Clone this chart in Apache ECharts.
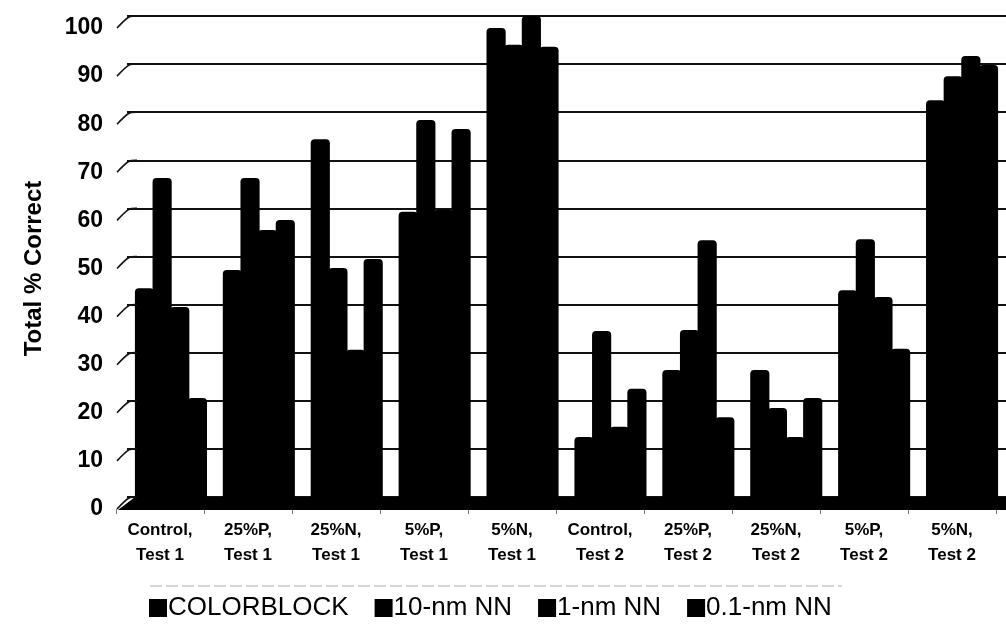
<!DOCTYPE html>
<html>
<head>
<meta charset="utf-8">
<script src="https://cdn.jsdelivr.net/npm/echarts@6/dist/echarts.min.js"></script>
<style>
  html, body { margin: 0; padding: 0; background: #fff; }
  #chart { width: 1006px; height: 633px; }
</style>
</head>
<body>
<div id="chart"></div>
<script>
// Groups along the x axis
const categories = [
  'Control,\nTest 1', '25%P,\nTest 1', '25%N,\nTest 1', '5%P,\nTest 1', '5%N,\nTest 1',
  'Control,\nTest 2', '25%P,\nTest 2', '25%N,\nTest 2', '5%P,\nTest 2', '5%N,\nTest 2'
];

// Total % correct for each method
const colorblock = [43.4, 47.2, 74.4, 59.3, 97.5, 12.5, 26.4, 26.4, 43.0, 82.5];
const nm10       = [66.3, 66.3, 47.6, 78.4, 94.0, 34.5, 34.7, 18.5, 53.6, 87.5];
const nm1        = [39.5, 55.5, 30.6, 59.7, 100.0, 14.6, 53.4, 12.5, 41.6, 91.7];
const nm01       = [20.6, 57.6, 49.5, 76.5, 93.6, 22.5, 16.6, 20.6, 30.8, 89.8];

const seriesNames = ['COLORBLOCK', '10-nm NN', '1-nm NN', '0.1-nm NN'];
const seriesData = [colorblock, nm10, nm1, nm01];

const yTicks = [0, 10, 20, 30, 40, 50, 60, 70, 80, 90, 100];

// Layout: the back wall (bars + gridlines) sits up and to the right of the
// front axis (labels), giving the pseudo-3D depth of the plot.
const BACK = { left: 127, top: 16, width: 881, height: 481 };
const FRONT = { left: 116, top: 28, width: 880, height: 481 };
const WALL_X = 135;
const FONT = '"Liberation Sans", Arial, sans-serif';

const chart = echarts.init(document.getElementById('chart'));

// Slanted stubs where each gridline meets the left wall
const stubs = yTicks.map(v => {
  const yb = BACK.top + BACK.height * (1 - v / 100);
  const yf = FRONT.top + FRONT.height * (1 - v / 100);
  return {
    type: 'polyline',
    z: 5,
    shape: { points: [[FRONT.left + 1, yf], [WALL_X - 6, yb + 1], [WALL_X + 2, yb]], smooth: 0.3 },
    style: { stroke: '#111', lineWidth: 1.6, fill: null }
  };
});

// Floor slab under the bars
const floorY0 = BACK.top + BACK.height;
const floorY1 = FRONT.top + FRONT.height + 1;
const floor = {
  type: 'polygon',
  z: 5,
  shape: { points: [[WALL_X, floorY0], [1006, floorY0], [1006, floorY1], [FRONT.left + 2, floorY1]] },
  style: { fill: '#000' }
};

chart.setOption({
  animation: false,
  backgroundColor: '#fff',
  textStyle: { fontFamily: FONT, color: '#000' },
  grid: [
    { left: BACK.left, top: BACK.top, width: BACK.width, height: BACK.height },
    { left: FRONT.left, top: FRONT.top, width: FRONT.width, height: FRONT.height }
  ],
  xAxis: [
    {
      type: 'category', gridIndex: 0, data: categories,
      axisLine: { show: false }, axisTick: { show: false }, axisLabel: { show: false }
    },
    {
      type: 'category', gridIndex: 1, data: categories,
      axisLine: { show: false },
      axisTick: { show: true, length: 5, lineStyle: { color: '#777', width: 1 } },
      axisLabel: {
        margin: 9, fontFamily: FONT, fontSize: 17, fontWeight: 'bold',
        color: '#000', lineHeight: 25, interval: 0
      }
    }
  ],
  yAxis: [
    {
      type: 'value', gridIndex: 0, min: 0, max: 100, interval: 10,
      axisLine: { show: false }, axisTick: { show: false }, axisLabel: { show: false },
      splitLine: { show: true, lineStyle: { color: '#111', width: 2 } }
    },
    {
      type: 'value', gridIndex: 1, min: 0, max: 100, interval: 10,
      axisLine: { show: false }, axisTick: { show: false },
      splitLine: { show: false },
      axisLabel: {
        margin: 13, fontFamily: FONT, fontSize: 23, fontWeight: 'bold', color: '#000'
      },
      name: 'Total % Correct',
      nameLocation: 'middle',
      nameGap: 70,
      nameRotate: 90,
      nameTextStyle: { fontFamily: FONT, fontSize: 24, fontWeight: 'bold', color: '#000' }
    }
  ],
  legend: {
    data: seriesNames,
    left: 144,
    top: 590,
    icon: 'rect',
    itemWidth: 18,
    itemHeight: 18,
    itemGap: 26,
    textStyle: { fontFamily: FONT, fontSize: 26, color: '#000', padding: [0, 0, 0, -4] }
  },
  graphic: [
    floor,
    ...stubs,
    {
      type: 'line', z: 1,
      shape: { x1: 150, y1: 586, x2: 842, y2: 586 },
      style: { stroke: '#aaa', lineWidth: 1, lineDash: [12, 4] }
    }
  ],
  series: seriesNames.map((name, i) => ({
    name,
    type: 'bar',
    xAxisIndex: 0,
    yAxisIndex: 0,
    data: seriesData[i],
    // slight overlap so neighbouring columns merge into one solid block
    barGap: '-8%',
    barCategoryGap: '18%',
    itemStyle: { color: '#000', borderRadius: [4, 4, 0, 0] },
    z: 3
  }))
});
</script>
</body>
</html>
